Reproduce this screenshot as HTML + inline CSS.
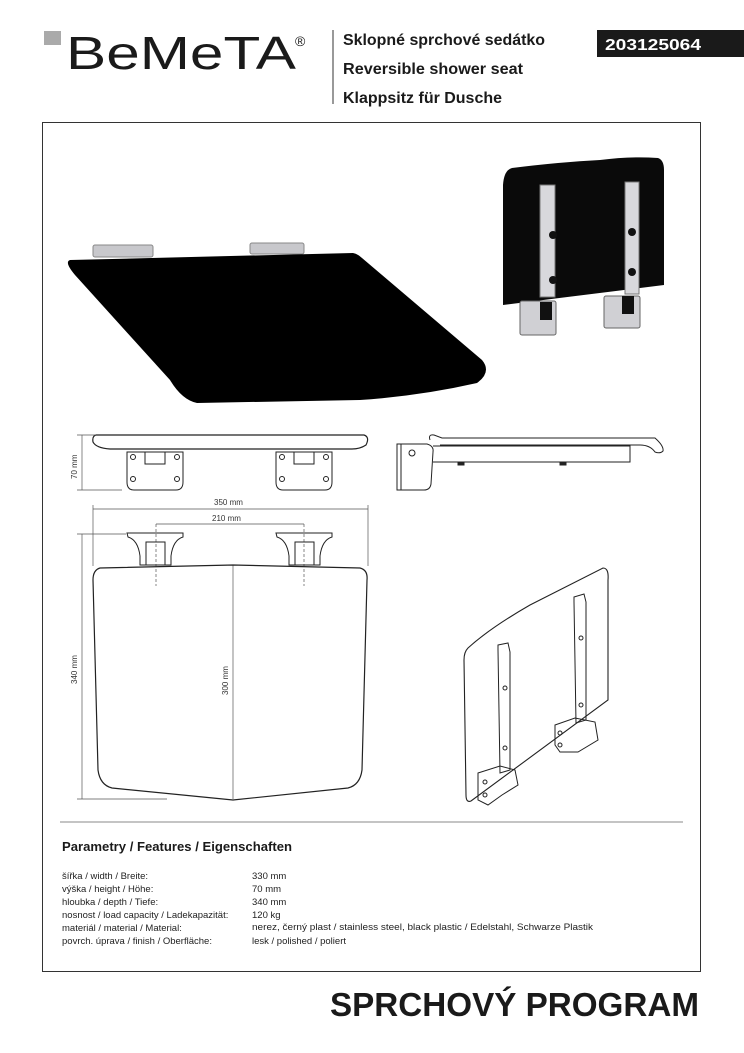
<!DOCTYPE html>
<html><head><meta charset="utf-8"><style>
html,body{margin:0;padding:0;background:#fff}
body{width:744px;height:1053px;position:relative;overflow:hidden;font-family:"Liberation Sans",sans-serif}
.t{position:absolute;white-space:nowrap}
</style></head><body>
<svg width="744" height="1053" style="position:absolute;left:0;top:0" xmlns="http://www.w3.org/2000/svg">
<rect x="44" y="31" width="17" height="14" fill="#aaa"/>
<text x="66" y="69" font-family="Liberation Sans, sans-serif" font-size="46" fill="#1a1a1a" textLength="230" lengthAdjust="spacingAndGlyphs">BeMeTA</text>
<text x="295" y="46" font-family="Liberation Sans, sans-serif" font-size="14" fill="#1a1a1a">®</text>
<line x1="333" y1="30" x2="333" y2="104" stroke="#333" stroke-width="1"/>
<text font-family="Liberation Sans, sans-serif" font-weight="bold" font-size="16" fill="#1a1a1a">
<tspan x="343" y="45" textLength="202" lengthAdjust="spacingAndGlyphs">Sklopné sprchové sedátko</tspan>
<tspan x="343" y="74" textLength="180" lengthAdjust="spacingAndGlyphs">Reversible shower seat</tspan>
<tspan x="343" y="103" textLength="159" lengthAdjust="spacingAndGlyphs">Klappsitz für Dusche</tspan></text>
<rect x="597" y="30" width="147" height="27" fill="#1a1a1a"/>
<text x="605" y="50" font-family="Liberation Sans, sans-serif" font-weight="bold" font-size="16" fill="#fff" textLength="96" lengthAdjust="spacingAndGlyphs">203125064</text>
<rect x="42.5" y="122.5" width="658" height="849" fill="none" stroke="#333" stroke-width="1"/>
<line x1="60" y1="822" x2="683" y2="822" stroke="#888" stroke-width="1"/>

<rect x="93" y="245" width="60" height="12" rx="2" fill="#c8c8cc" stroke="#888"/>
<rect x="250" y="243" width="54" height="11" rx="2" fill="#c8c8cc" stroke="#888"/>
<path d="M70 260 L353 253 Q358 254 362 258 L482 360 Q492 372 477 383 Q420 396 360 400 L197 403 Q182 400 170 380 L75 275 Q64 262 70 260Z" fill="#000"/>
<path d="M512 168 Q560 162 600 160 Q630 156 658 158 Q664 160 664 170 L664 285 L503 305 L503 185 Q504 170 512 168Z" fill="#0a0a0a"/>
<rect x="540" y="185" width="15" height="112" fill="#d8d8dc" stroke="#777"/>
<rect x="625" y="182" width="14" height="112" fill="#d8d8dc" stroke="#777"/>
<circle cx="553" cy="235" r="4" fill="#111"/><circle cx="553" cy="280" r="4" fill="#111"/>
<circle cx="632" cy="232" r="4" fill="#111"/><circle cx="632" cy="272" r="4" fill="#111"/>
<rect x="520" y="301" width="36" height="34" rx="2" fill="#d0d0d4" stroke="#666"/>
<rect x="604" y="296" width="36" height="32" rx="2" fill="#d0d0d4" stroke="#666"/>
<rect x="540" y="302" width="12" height="18" fill="#111"/><rect x="622" y="296" width="12" height="18" fill="#111"/>

<g fill="none" stroke="#222" stroke-width="1">
<path d="M96 435 L364 435 Q370 437 366 445 Q360 449 352 449 L110 449 Q96 448 93 442 Q92 436 96 435Z" stroke-width="1.2"/>
<path d="M127 452 L183 452 L183 482 Q183 490 176 490 L134 490 Q127 490 127 482Z"/>
<path d="M276 452 L332 452 L332 482 Q332 490 325 490 L283 490 Q276 490 276 482Z"/>
<rect x="145" y="452" width="20" height="12"/><rect x="294" y="452" width="20" height="12"/>
<circle cx="133" cy="457" r="2.5"/><circle cx="177" cy="457" r="2.5"/><circle cx="133" cy="479" r="2.5"/><circle cx="177" cy="479" r="2.5"/>
<circle cx="282" cy="457" r="2.5"/><circle cx="326" cy="457" r="2.5"/><circle cx="282" cy="479" r="2.5"/><circle cx="326" cy="479" r="2.5"/>
<g stroke="#555" stroke-width="0.7">
<line x1="82" y1="435" x2="82" y2="490"/><line x1="77" y1="435" x2="96" y2="435"/><line x1="77" y1="490" x2="122" y2="490"/>
<line x1="93" y1="509" x2="368" y2="509"/><line x1="93" y1="505" x2="93" y2="566"/><line x1="368" y1="505" x2="368" y2="566"/>
<line x1="156" y1="524" x2="304" y2="524"/>
<line x1="82" y1="534" x2="82" y2="799"/><line x1="77" y1="534" x2="126" y2="534"/><line x1="77" y1="799" x2="167" y2="799"/>
<line x1="233" y1="565" x2="233" y2="799"/>
<line x1="156" y1="524" x2="156" y2="586" stroke-dasharray="3 2"/><line x1="304" y1="524" x2="304" y2="586" stroke-dasharray="3 2"/>
</g>
<path d="M127 533 L183 533 L183 537 Q173 540 171 556 L171 565 L140 565 L140 556 Q138 540 128 537Z"/>
<path d="M276 533 L332 533 L332 537 Q322 540 320 556 L320 565 L289 565 L289 556 Q287 540 277 537Z"/>
<rect x="146" y="542" width="19" height="23"/><rect x="295" y="542" width="19" height="23"/>
<path d="M100 568 L233 565 L360 568 Q368 570 367 580 L362 770 Q360 785 348 788 L233 800 L112 788 Q100 785 98 770 L93 580 Q93 570 100 568Z" stroke-width="1.2"/>
<path d="M397 444 L427 444 Q434 446 433 452 L431 484 Q430 490 424 490 L397 490Z"/>
<line x1="401" y1="444" x2="401" y2="490"/>
<circle cx="412" cy="453" r="3"/>
<path d="M433 446 L630 446 L630 462 L433 462"/>
<path d="M430 440 Q428 434 434 435 L442 438 L655 438 Q664 446 663 451 Q660 454 655 452 Q650 445 640 445 L440 445"/>
<rect x="458" y="462" width="6" height="3" fill="#222"/><rect x="560" y="462" width="6" height="3" fill="#222"/>
<path d="M468 648 Q490 628 530 605 L603 568 Q609 568 608 580 L608 700 L471 801 Q466 803 466 795 L464 660 Q464 652 468 648Z" stroke-width="1.1"/>
<path d="M498 645 L508 643 L510 652 L510 770 L500 773 L498 650Z"/>
<path d="M574 597 L584 594 L586 602 L586 720 L576 723 L574 602Z"/>
<path d="M478 773 L500 766 L515 770 L518 785 L502 795 L488 805 L478 800Z"/>
<path d="M555 725 L575 718 L595 722 L598 740 L578 752 L560 752 L555 745Z"/>
<circle cx="485" cy="782" r="2"/><circle cx="485" cy="795" r="2"/><circle cx="560" cy="733" r="2"/><circle cx="560" cy="745" r="2"/>
<circle cx="505" cy="688" r="2"/><circle cx="505" cy="748" r="2"/><circle cx="581" cy="638" r="2"/><circle cx="581" cy="705" r="2"/>
</g>
<g font-family="Liberation Sans, sans-serif" font-size="8" fill="#333">
<text x="214" y="505">350 mm</text>
<text x="212" y="521">210 mm</text>
<text transform="translate(77,479) rotate(-90)">70 mm</text>
<text transform="translate(77,684) rotate(-90)">340 mm</text>
<text transform="translate(228,695) rotate(-90)">300 mm</text>
</g>
<text x="62" y="851" font-family="Liberation Sans, sans-serif" font-weight="bold" font-size="12.5" fill="#1a1a1a" textLength="230" lengthAdjust="spacingAndGlyphs">Parametry / Features / Eigenschaften</text>
<text x="252" y="930" font-family="Liberation Sans, sans-serif" font-size="9.5" fill="#222" textLength="341" lengthAdjust="spacingAndGlyphs">nerez, černý plast / stainless steel, black plastic / Edelstahl, Schwarze Plastik</text>
<text x="330" y="1016" font-family="Liberation Sans, sans-serif" font-weight="bold" font-size="33" fill="#1a1a1a" textLength="369" lengthAdjust="spacingAndGlyphs">SPRCHOVÝ PROGRAM</text>
</svg>
<div class="t" style="left:62px;top:870px;font-size:9.5px;line-height:13px;color:#222">šířka / width / Breite:<br>výška / height / Höhe:<br>hloubka / depth / Tiefe:<br>nosnost / load capacity / Ladekapazität:<br>materiál / material / Material:<br>povrch. úprava / finish / Oberfläche:</div>
<div class="t" style="left:252px;top:870px;font-size:9.5px;line-height:13px;color:#222">330 mm<br>70 mm<br>340 mm<br>120 kg<br>&nbsp;<br>lesk / polished / poliert</div>
</body></html>
